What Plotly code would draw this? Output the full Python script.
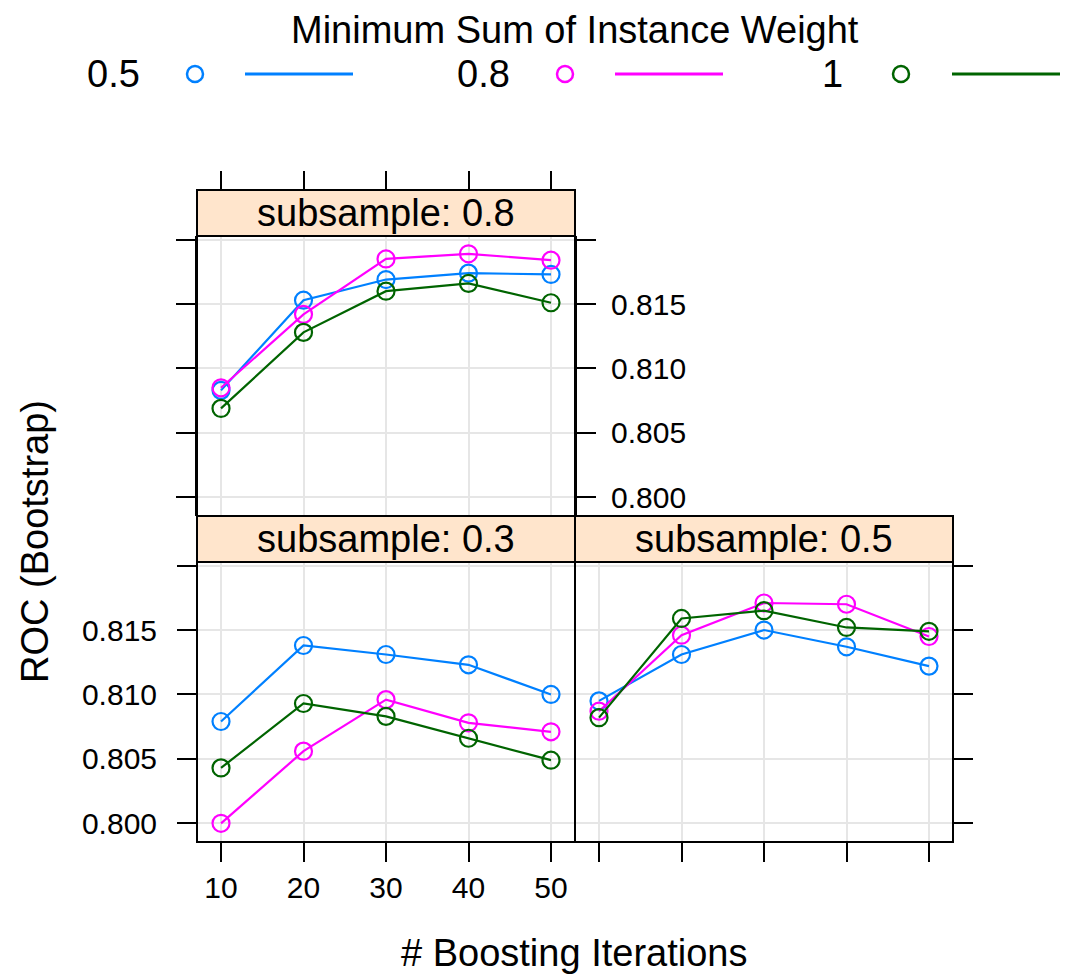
import plotly.graph_objects as go

W, H = 1065, 979

iterations = [10, 20, 30, 40, 50]
weights = ["0.5", "0.8", "1"]
colors = ["#0080ff", "#ff00ff", "#006400"]

# ROC by subsample, one list per minimum-sum-of-instance-weight level
sub03_w05 = [0.8079, 0.8138, 0.8131, 0.8123, 0.8100]
sub03_w08 = [0.8000, 0.8056, 0.8096, 0.8078, 0.8071]
sub03_w1 = [0.8043, 0.8093, 0.8083, 0.8066, 0.8049]

sub05_w05 = [0.8095, 0.8131, 0.8150, 0.8137, 0.8122]
sub05_w08 = [0.8087, 0.8146, 0.8171, 0.8170, 0.8145]
sub05_w1 = [0.8082, 0.8159, 0.8165, 0.8152, 0.8149]

sub08_w05 = [0.8083, 0.8153, 0.8169, 0.8174, 0.8173]
sub08_w08 = [0.8085, 0.8142, 0.8185, 0.8189, 0.8184]
sub08_w1 = [0.8069, 0.8128, 0.8160, 0.8166, 0.8151]

y_ticks = [0.800, 0.805, 0.810, 0.815, 0.820]
y_ticklabels = ["0.800", "0.805", "0.810", "0.815", ""]
x_ticks = [10, 20, 30, 40, 50]

panels = [
    ("subsample: 0.3", "x", "y", [sub03_w05, sub03_w08, sub03_w1]),
    ("subsample: 0.5", "x2", "y2", [sub05_w05, sub05_w08, sub05_w1]),
    ("subsample: 0.8", "x3", "y3", [sub08_w05, sub08_w08, sub08_w1]),
]

FONT = "Liberation Sans, Arial, Helvetica, sans-serif"

fig = go.Figure()
for title, xa, ya, series in panels:
    for w, col, vals in zip(weights, colors, series):
        fig.add_trace(go.Scatter(
            x=iterations, y=vals, xaxis=xa, yaxis=ya, mode="lines+markers",
            line=dict(color=col, width=2.2),
            marker=dict(symbol="circle-open", size=17, color=col, line=dict(width=2.2, color=col)),
            name=w, showlegend=False, cliponaxis=False,
        ))

def fx(px):
    return px / W

def fy(py):
    return 1 - py / H

XR = [7.09, 52.91]
YR = [0.79855, 0.82028]

common = dict(ticks="outside", ticklen=19, tickwidth=2, tickcolor="black",
              showline=False, zeroline=False, showgrid=True, gridcolor="#e6e6e6",
              gridwidth=2, tickfont=dict(size=30, family=FONT, color="black"))

fig.update_layout(
    width=W, height=H, margin=dict(l=0, r=0, t=0, b=0),
    paper_bgcolor="white", plot_bgcolor="white", showlegend=False,
    font=dict(family=FONT, color="black"),
    xaxis=dict(domain=[fx(197), fx(575)], anchor="y", range=XR, tickvals=x_ticks,
               ticklabelstandoff=0, **common),
    yaxis=dict(domain=[fy(842), fy(562)], anchor="x", range=YR, tickvals=y_ticks,
               ticktext=y_ticklabels, ticklabelstandoff=14, **common),
    xaxis2=dict(domain=[fx(575), fx(953)], anchor="y2", range=XR, tickvals=x_ticks,
                showticklabels=False, **common),
    yaxis2=dict(domain=[fy(842), fy(562)], anchor="x2", side="right", range=YR,
                tickvals=y_ticks, showticklabels=False, **common),
    xaxis3=dict(domain=[fx(197), fx(575)], anchor="free", position=fy(190), side="top",
                range=XR, tickvals=x_ticks, showticklabels=False, **common),
    yaxis3=dict(domain=[fy(516), fy(236)], anchor="x3", side="right", range=YR,
                tickvals=y_ticks, ticktext=y_ticklabels, ticklabelstandoff=9, **common),
)
fig.update_layout(yaxis3=dict(showline=True, linecolor="black", linewidth=2, mirror="ticks"))

shapes = []
annotations = []
strip_h = 46 / 280
for title, xa, ya, _ in panels:
    xd, yd = f"{xa} domain", f"{ya} domain"
    shapes.append(dict(type="rect", xref=xd, yref=yd, x0=0, x1=1, y0=0, y1=1,
                       line=dict(color="black", width=2), layer="above"))
    shapes.append(dict(type="rect", xref=xd, yref=yd, x0=0, x1=1, y0=1, y1=1 + strip_h,
                       fillcolor="#ffe5cc", line=dict(color="black", width=2), layer="above"))
    annotations.append(dict(text=title, xref=xd, yref=yd, x=0.5, y=1 + strip_h / 2,
                            showarrow=False, xanchor="center", yanchor="middle",
                            font=dict(size=38, family=FONT, color="black")))

# axis titles
annotations.append(dict(text="# Boosting Iterations", xref="paper", yref="paper",
                        x=fx(574), y=fy(953), showarrow=False, xanchor="center",
                        yanchor="middle", font=dict(size=38, family=FONT)))
annotations.append(dict(text="ROC (Bootstrap)", xref="paper", yref="paper",
                        x=fx(35), y=fy(542), showarrow=False, textangle=-90,
                        xanchor="center", yanchor="middle", font=dict(size=38, family=FONT)))

# key
annotations.append(dict(text="Minimum Sum of Instance Weight", xref="paper", yref="paper",
                        x=fx(575), y=fy(30), showarrow=False, xanchor="center",
                        yanchor="middle", font=dict(size=38, family=FONT)))
key_text_right = [142, 512, 845]
key_circle = [195, 565, 901]
key_line = [(245, 353), (615, 723), (952, 1060)]
key_y = 74
for w, col, tr, cx, (l0, l1) in zip(weights, colors, key_text_right, key_circle, key_line):
    annotations.append(dict(text=w, xref="paper", yref="paper", x=fx(tr), y=fy(key_y),
                            showarrow=False, xanchor="right", yanchor="middle",
                            font=dict(size=38, family=FONT)))
    r = 8
    shapes.append(dict(type="circle", xref="paper", yref="paper",
                       x0=fx(cx - r), x1=fx(cx + r), y0=fy(key_y + r), y1=fy(key_y - r),
                       line=dict(color=col, width=2.5)))
    shapes.append(dict(type="line", xref="paper", yref="paper",
                       x0=fx(l0), x1=fx(l1), y0=fy(key_y), y1=fy(key_y),
                       line=dict(color=col, width=3)))

fig.update_layout(shapes=shapes, annotations=annotations)
fig.write_html("out.html", config={"displayModeBar": False},
               post_script="document.body.style.margin='0';document.body.style.overflow='hidden';")
